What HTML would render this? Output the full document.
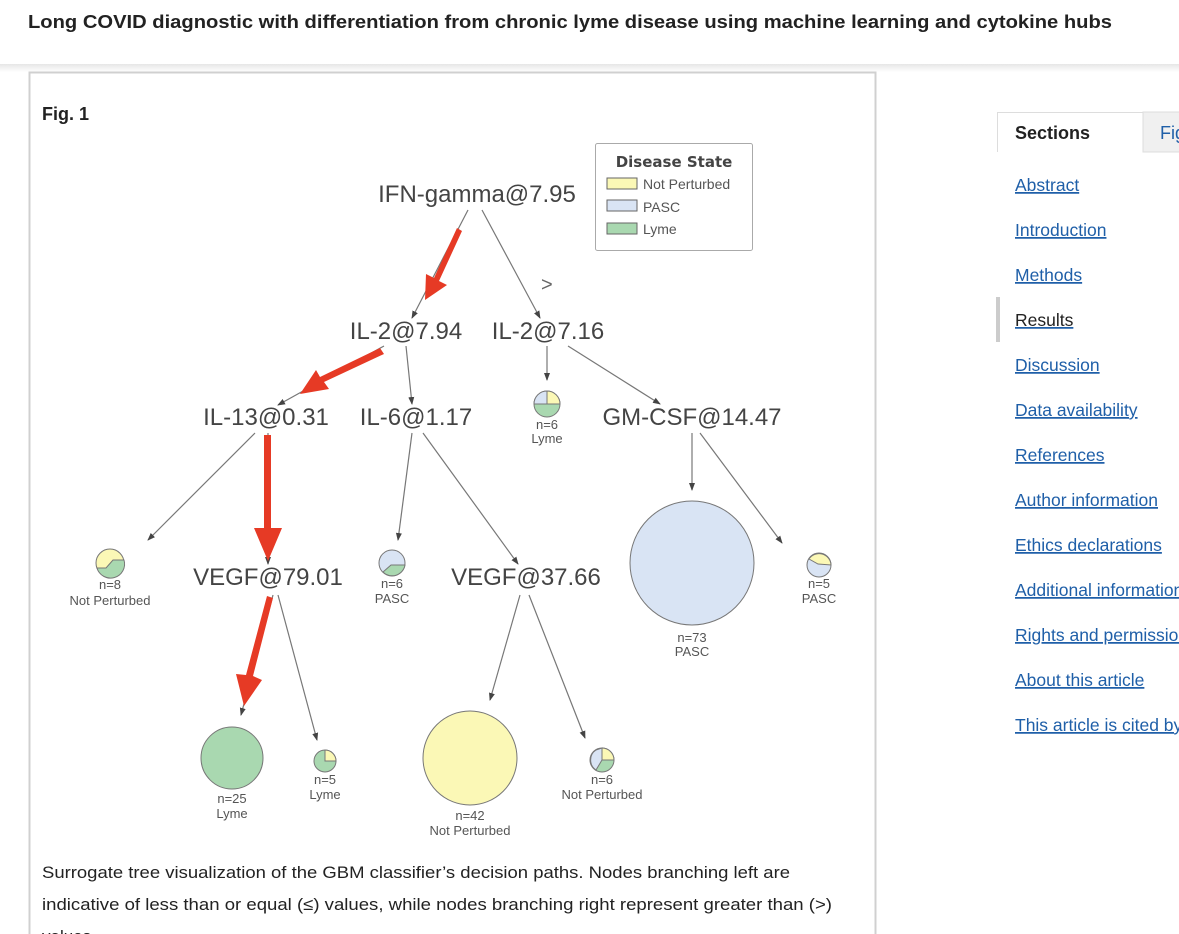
<!DOCTYPE html>
<html><head><meta charset="utf-8"><style>
html,body{margin:0;padding:0;background:#fff;width:1179px;height:934px;overflow:hidden}
svg{display:block}
</style></head><body>
<svg width="1179" height="934" viewBox="0 0 1179 934" xmlns="http://www.w3.org/2000/svg" font-family="Liberation Sans, Arial, sans-serif">
<defs>
<linearGradient id="sh" x1="0" y1="0" x2="0" y2="1"><stop offset="0" stop-color="#e6e6e6"/><stop offset="1" stop-color="#fff"/></linearGradient>
<marker id="ga" markerWidth="8" markerHeight="8" refX="7" refY="4" orient="auto" markerUnits="userSpaceOnUse"><path d="M0,1 L8,4 L0,7 Z" fill="#444"/></marker>
</defs>
<rect x="0" y="0" width="1179" height="934" fill="#fff"/>
<rect x="0" y="64" width="1179" height="8" fill="url(#sh)"/>
<text x="28" y="28" font-size="18.5" font-weight="bold" fill="#222" textLength="1084" lengthAdjust="spacingAndGlyphs">Long COVID diagnostic with differentiation from chronic lyme disease using machine learning and cytokine hubs</text>

<!-- figure box -->
<rect x="29.5" y="72.5" width="846" height="880" fill="#fff" stroke="#d0d0d0" stroke-width="2"/>
<text x="42" y="120" font-size="18" font-weight="bold" fill="#222">Fig. 1</text>

<!-- legend -->
<rect x="595.5" y="143.5" width="157" height="107" rx="2" fill="#fff" stroke="#aaa"/>
<text x="674" y="167" font-size="15" font-weight="bold" fill="#444" text-anchor="middle" font-family="DejaVu Sans, sans-serif">Disease State</text>
<rect x="607" y="178" width="30" height="11" fill="#fbf8b6" stroke="#666"/>
<text x="643" y="189" font-size="14" fill="#555">Not Perturbed</text>
<rect x="607" y="200" width="30" height="11" fill="#d9e4f4" stroke="#666"/>
<text x="643" y="212" font-size="14" fill="#555">PASC</text>
<rect x="607" y="223" width="30" height="11" fill="#a9d8b0" stroke="#666"/>
<text x="643" y="234" font-size="14" fill="#555">Lyme</text>

<!-- edges -->
<g stroke="#777" stroke-width="1.2" fill="none" marker-end="url(#ga)">
<line x1="468" y1="210" x2="412" y2="318"/>
<line x1="482" y1="210" x2="540" y2="318"/>
<line x1="384" y1="346" x2="278" y2="405"/>
<line x1="406" y1="346" x2="412" y2="404"/>
<line x1="547" y1="346" x2="547" y2="380"/>
<line x1="568" y1="346" x2="660" y2="404"/>
<line x1="255" y1="433" x2="148" y2="540"/>
<line x1="268" y1="433" x2="268" y2="564"/>
<line x1="412" y1="433" x2="398" y2="540"/>
<line x1="423" y1="433" x2="518" y2="564"/>
<line x1="692" y1="433" x2="692" y2="490"/>
<line x1="700" y1="433" x2="782" y2="543"/>
<line x1="273" y1="595" x2="241" y2="715"/>
<line x1="278" y1="595" x2="317" y2="740"/>
<line x1="520" y1="595" x2="490" y2="700"/>
<line x1="529" y1="595" x2="585" y2="738"/>
</g>
<text x="541" y="291" font-size="20" fill="#666">&gt;</text>

<!-- red arrows -->
<g fill="#e63a25" stroke="none">
<path d="M457,228 L462,231 L439,281 L447,285 L425,300 L426,274 L434,278 Z"/>
<path d="M380,348 L384,354 L324,382 L329,389 L300,394 L316,370 L320,377 Z"/>
<path d="M264,435 L271,435 L271,528 L282,528 L268,561 L254,528 L264,528 Z"/>
<path d="M267,596 L273,598 L253,676 L262,680 L244,706 L236,674 L246,675 Z"/>
</g>

<!-- node labels -->
<g font-size="24" fill="#444" text-anchor="middle">
<text x="477" y="202">IFN-gamma@7.95</text>
<text x="406" y="339">IL-2@7.94</text>
<text x="548" y="339">IL-2@7.16</text>
<text x="266" y="425">IL-13@0.31</text>
<text x="416" y="425">IL-6@1.17</text>
<text x="692" y="425">GM-CSF@14.47</text>
<text x="268" y="585">VEGF@79.01</text>
<text x="526" y="585">VEGF@37.66</text>
</g>

<!-- pies -->
<g stroke="#777" stroke-width="1">
<!-- n=8 -->
<circle cx="110" cy="563" r="14" fill="#fbf8b6"/>
<path d="M97,568 L106,568 L113,560 L124,560 A14,14 0 0 1 97,568 Z" fill="#a9d8b0"/>
<!-- n=6 PASC -->
<circle cx="392" cy="563" r="13" fill="#d9e4f4"/>
<path d="M383,572 L391,565 L405,565 A13,13 0 0 1 383,572 Z" fill="#a9d8b0"/>
<!-- n=6 Lyme -->
<circle cx="547" cy="404" r="13" fill="#a9d8b0"/>
<path d="M534,404 A13,13 0 0 1 547,391 L547,404 Z" fill="#d9e4f4"/>
<path d="M547,391 A13,13 0 0 1 560,404 L547,404 Z" fill="#fbf8b6"/>
<!-- n=73 -->
<circle cx="692" cy="563" r="62" fill="#d9e4f4"/>
<!-- n=5 PASC -->
<circle cx="819" cy="565" r="12" fill="#d9e4f4"/>
<path d="M809,559 A12,12 0 0 1 831,565 L818,564 Z" fill="#fbf8b6"/>
<!-- n=25 -->
<circle cx="232" cy="758" r="31" fill="#a9d8b0"/>
<!-- n=5 Lyme -->
<circle cx="325" cy="761" r="11" fill="#a9d8b0"/>
<path d="M325,761 L325,750 A11,11 0 0 1 336,761 Z" fill="#fbf8b6"/>
<!-- n=42 -->
<circle cx="470" cy="758" r="47" fill="#fbf8b6"/>
<!-- n=6 NP -->
<circle cx="602" cy="760" r="12" fill="#a9d8b0"/>
<path d="M602,760 L602,748 A12,12 0 0 1 614,760 Z" fill="#fbf8b6"/>
<path d="M602,760 L596,770 A12,12 0 0 1 596,750 L602,748 Z" fill="#d9e4f4"/>
</g>
<g font-size="13" fill="#555" text-anchor="middle">
<text x="110" y="589">n=8</text><text x="110" y="605">Not Perturbed</text>
<text x="392" y="588">n=6</text><text x="392" y="603">PASC</text>
<text x="547" y="429">n=6</text><text x="547" y="443">Lyme</text>
<text x="692" y="642">n=73</text><text x="692" y="656">PASC</text>
<text x="819" y="588">n=5</text><text x="819" y="603">PASC</text>
<text x="232" y="803">n=25</text><text x="232" y="818">Lyme</text>
<text x="325" y="784">n=5</text><text x="325" y="799">Lyme</text>
<text x="470" y="820">n=42</text><text x="470" y="835">Not Perturbed</text>
<text x="602" y="784">n=6</text><text x="602" y="799">Not Perturbed</text>
</g>

<!-- caption -->
<g font-size="17" fill="#222">
<text x="42" y="878" textLength="748" lengthAdjust="spacingAndGlyphs">Surrogate tree visualization of the GBM classifier’s decision paths. Nodes branching left are</text>
<text x="42" y="910" textLength="790" lengthAdjust="spacingAndGlyphs">indicative of less than or equal (≤) values, while nodes branching right represent greater than (&gt;)</text>
<text x="42" y="942">values.</text>
</g>

<!-- sidebar -->
<rect x="1143" y="112" width="40" height="40" fill="#f0f0f0" stroke="#ddd"/>
<text x="1160" y="139" font-size="18" fill="#1f5fa8">Fig</text>
<path d="M997.5,152 L997.5,112.5 L1143,112.5" fill="none" stroke="#ddd"/>
<text x="1015" y="139" font-size="18" font-weight="bold" fill="#222">Sections</text>
<rect x="996" y="297" width="4" height="45" fill="#ccc"/>
<g font-size="17.5" fill="#1f5fa8" text-decoration="underline">
<text x="1015" y="191">Abstract</text>
<text x="1015" y="236">Introduction</text>
<text x="1015" y="281">Methods</text>
<text x="1015" y="326" fill="#222">Results</text>
<text x="1015" y="371">Discussion</text>
<text x="1015" y="416">Data availability</text>
<text x="1015" y="461">References</text>
<text x="1015" y="506">Author information</text>
<text x="1015" y="551">Ethics declarations</text>
<text x="1015" y="596">Additional information</text>
<text x="1015" y="641">Rights and permissions</text>
<text x="1015" y="686">About this article</text>
<text x="1015" y="731">This article is cited by</text>
</g>
</svg>
</body></html>
